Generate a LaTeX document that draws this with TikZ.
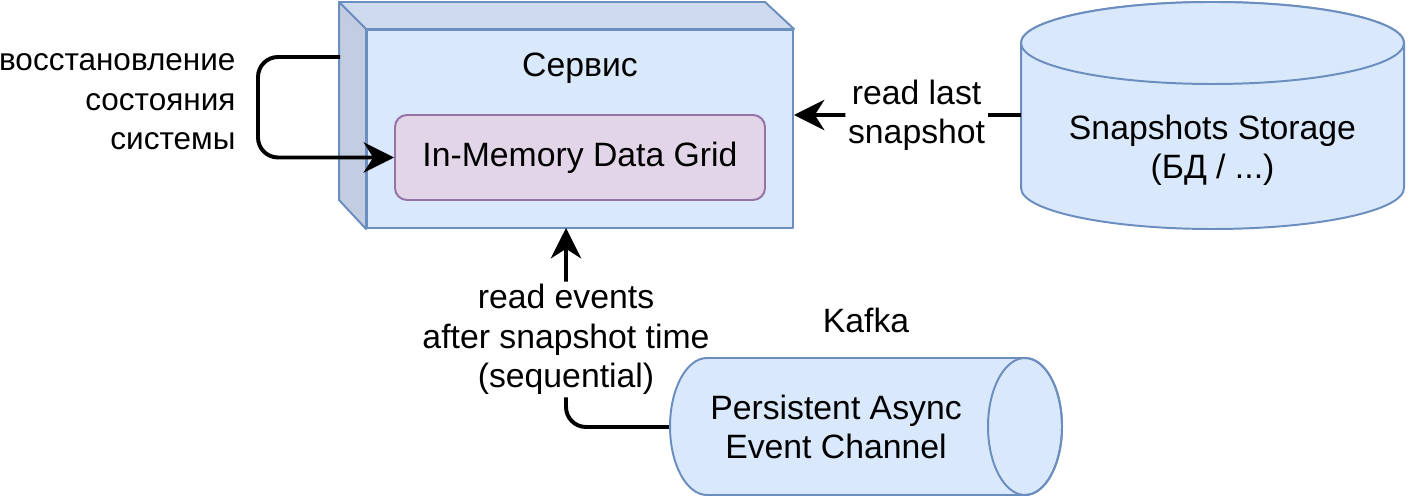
\documentclass[tikz,border=0pt]{standalone}
\usepackage{fontspec}
\setmainfont{Liberation Sans}
\usetikzlibrary{positioning,arrows.meta}
\definecolor{svcfill}{HTML}{DAE8FC}
\definecolor{svcline}{HTML}{6C8EBF}
\definecolor{svctop}{HTML}{CEDBEE}
\definecolor{svcside}{HTML}{C2CDE1}
\definecolor{gridfill}{HTML}{E1D5E7}
\definecolor{gridline}{HTML}{9673A6}
\newcommand{\pxu}{0.0125cm}

\begin{document}
\begin{tikzpicture}[
    x=0.0125cm, y=0.0125cm,
    font=\fontsize{12}{14}\selectfont,
    face/.style={draw=svcline, line width=0.7pt, line join=round},
    lbl/.style={align=center, inner sep=1pt},
    tag/.style={align=center, fill=white, inner sep=1pt},
    flow/.style={-{Stealth[length=0.38cm, width=0.38cm, inset=0.12cm]}, line width=1.4pt, rounded corners=0.25cm}
]
\useasboundingbox (0,0) rectangle (1409,-497);
\node[face, fill=svcfill, minimum width={426*\pxu}, minimum height={198*\pxu}, inner sep=0pt] (service) at (580,-129) {};
\draw[face, fill=svctop] (service.north west) -- ++(-27,27) -- ++(426,0) -- (service.north east) -- cycle;
\draw[face, fill=svcside] (service.north west) -- ++(-27,27) -- ++(0,-198) -- (service.south west) -- cycle;
\node[lbl] (svctitle) at (580,-68) {Сервис};
\node[draw=gridline, fill=gridfill, line width=0.7pt, rounded corners=0.15cm, minimum width={370*\pxu}, minimum height={85*\pxu}] (grid) at (580,-157.5) {In-Memory Data Grid};
\draw[face, fill=svcfill] (1021,-43) -- (1021,-188) arc[start angle=180, end angle=360, x radius={191.5*\pxu}, y radius={41*\pxu}] -- (1404,-43) arc[start angle=0, end angle=180, x radius={191.5*\pxu}, y radius={41*\pxu}] -- cycle;
\draw[face, fill=svcfill] (1212.5,-43) ellipse [x radius={191.5*\pxu}, y radius={41*\pxu}];
\node[lbl] (storage) at (1212.5,-150) {Snapshots Storage\\(БД / ...)};
\node[lbl] (kafka) at (866,-320) {Kafka};
\node[align=right, anchor=east, inner sep=0pt, font=\fontsize{11.2}{14}\selectfont] (restore) at (236,-102) {восстановление\\состояния\\системы};
\coordinate (loopout) at (340,-57);
\coordinate (storeout) at (1021,-115);
\coordinate (chanout) at (670,-427);
\coordinate (svcin) at (566,-228);
\draw[flow] (loopout) -- ++(-82,0) |- (grid.west);
\draw[flow] (storeout) -- (storeout -| service.east) node[tag, pos=0.46] {read last\\snapshot};
\draw[flow] (chanout) -| (svcin) node[tag, pos=0.72] {read events\\after snapshot time\\(sequential)};
\draw[face, fill=svcfill] (1025,-358) -- (707,-358) arc[start angle=90, end angle=270, x radius={37*\pxu}, y radius={68.5*\pxu}] -- (1025,-495) arc[start angle=-90, end angle=90, x radius={37*\pxu}, y radius={68.5*\pxu}] -- cycle;
\draw[face] (1025,-426.5) ellipse [x radius={37*\pxu}, y radius={68.5*\pxu}];
\node[lbl] (channel) at (836,-427) {Persistent Async\\Event Channel};
\end{tikzpicture}
\end{document}
